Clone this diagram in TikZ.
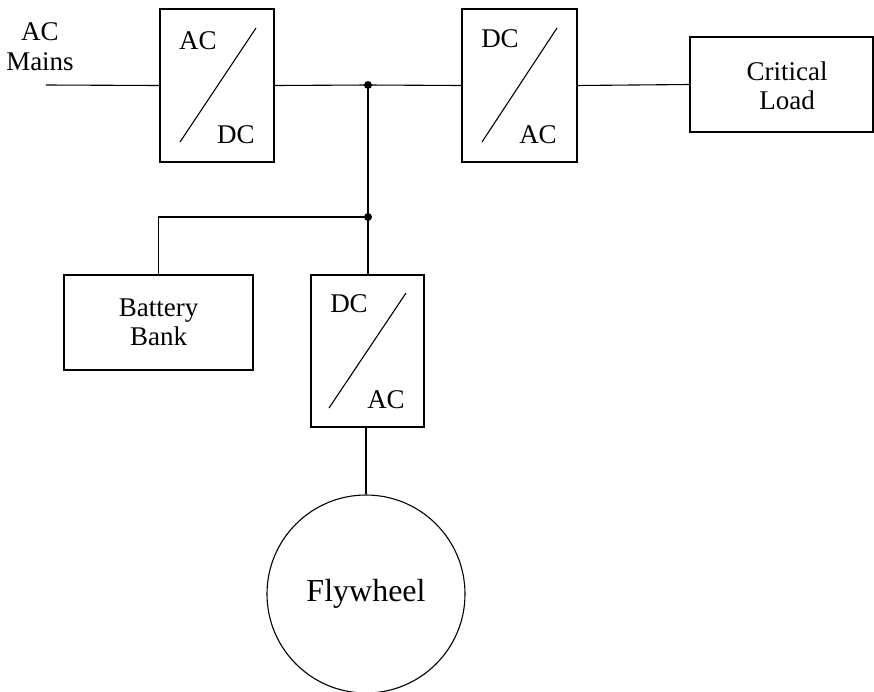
\documentclass[tikz,border=0pt]{standalone}
\usepackage{fontspec}
\setmainfont{Liberation Serif}
\begin{document}
\begin{tikzpicture}[x=1pt,y=1pt,
  wire/.style={line width=1.1pt,black},
  blk/.style={draw,line width=1.1pt,inner sep=0pt,minimum width=#1},
  lbl/.style={font=\fontsize{27}{29.5}\selectfont,inner sep=0pt,align=center},
  dotj/.style={circle,fill=black,inner sep=0pt,minimum size=8pt}]
\useasboundingbox (0,0) rectangle (874,-691);
% text for mains
\node[lbl] (mains) at (40,-46.5) {AC\\Mains};
\coordinate (mainsend) at (46,-85);
% converter 1
\node[blk=114pt,minimum height=153pt] (b1) at (217,-85.5) {};
\node[lbl] (b1a) at (198,-41) {AC};
\node[lbl] (b1b) at (236,-135) {DC};
\coordinate (b1s) at (180,-142); \coordinate (b1e) at (256,-28);
\draw[wire] (b1s) -- (b1e);
% converter 2
\node[blk=115pt,minimum height=153pt] (b2) at (519.5,-85.5) {};
\node[lbl] (b2a) at (500,-39) {DC};
\node[lbl] (b2b) at (538,-135) {AC};
\coordinate (b2s) at (482,-142); \coordinate (b2e) at (557,-28);
\draw[wire] (b2s) -- (b2e);
% critical load
\node[blk=183pt,minimum height=95pt] (load) at (781.5,-84.5) {};
\node[lbl] (loadtxt) at (787,-86) {Critical\\Load};
% junctions
\node[dotj] (j1) at (368,-85) {};
\node[dotj] (j2) at (368,-217) {};
% battery
\node[blk=189pt,minimum height=95pt,lbl] (bat) at (158.5,-322.5) {Battery\\Bank};
% converter 3
\node[blk=113pt,minimum height=152pt] (b3) at (367.5,-351) {};
\node[lbl] (b3a) at (349,-304) {DC};
\node[lbl] (b3b) at (386,-400) {AC};
\coordinate (b3s) at (329,-408); \coordinate (b3e) at (406,-293);
\draw[wire] (b3s) -- (b3e);
% flywheel
\node[draw,circle,line width=1.1pt,minimum size=198pt,inner sep=0pt,font=\fontsize{32}{36}\selectfont] (fly) at (366,-594) {Flywheel};
% connectors
\draw[wire] (mainsend) -- (b1.west);
\draw[wire] (b1.east) -- (j1.center) -- (b2.west);
\draw[wire] (b2.east) -- (load.west);
\draw[wire] (j1.center) -- (j2.center) -- (b3.north -| j2.center);
\draw[wire] (j2.center) -| (bat.north);
\draw[wire] (b3.south -| fly.north) -- (fly.north);
\end{tikzpicture}
\end{document}
